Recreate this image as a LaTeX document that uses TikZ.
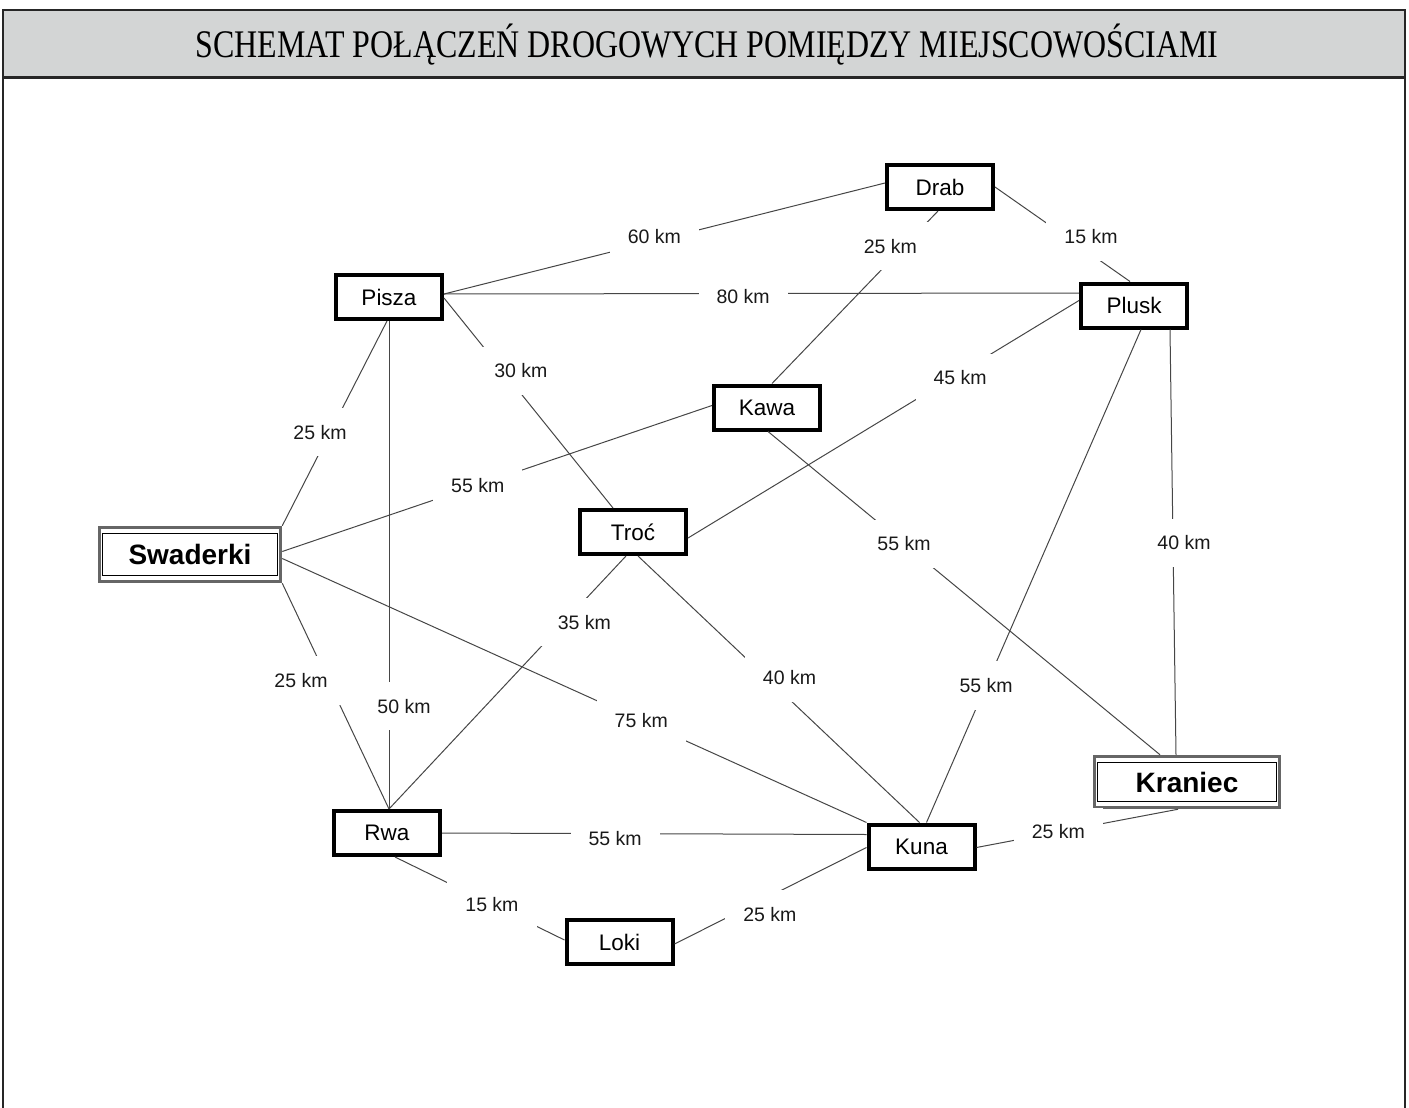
\documentclass[tikz,border=0pt]{standalone}
\usepackage{fontspec}
\usepackage{graphicx}
\setmainfont{Liberation Sans}
\newfontfamily\titlefont{Liberation Serif}
\usetikzlibrary{calc}
\definecolor{bargray}{RGB}{211,213,213}
\definecolor{edgec}{RGB}{70,70,70}
\begin{document}
\begin{tikzpicture}[x=1pt,y=-1pt,
  town/.style={draw=black,line width=4pt,minimum width=106pt,minimum height=44pt,inner sep=0pt,font=\fontsize{22.5}{27}\selectfont,fill=white},
  bigtown/.style={draw=black!60,line width=3.5pt,inner sep=0pt,font=\bfseries\fontsize{28}{32}\selectfont,fill=white},
  innerbox/.style={draw=black,line width=1pt},
  road/.style={draw=edgec,line width=1pt},
  km/.style={fill=white,inner xsep=18pt,inner ysep=17pt,font=\fontsize{19.5}{22}\selectfont,text=black!90}
]
\useasboundingbox (0,0) rectangle (1409,1108);
% frame and title bar
\fill[bargray] (3,10) rectangle (1405,78);
\draw[line width=2pt,black!85] (3,1108) -- (3,10) -- (1405,10) -- (1405,1108);
\draw[line width=3pt,black!85] (3,78) -- (1405,78);
\node[font=\titlefont\fontsize{34}{40}\selectfont] (title) at (707,45)
  {\scalebox{0.94}[1.15]{SCHEMAT POŁĄCZEŃ DROGOWYCH POMIĘDZY MIEJSCOWOŚCIAMI}};
% towns
\node[town] (drab)  at (940,187)   {Drab};
\node[town] (pisza) at (389,297)   {Pisza};
\node[town] (plusk) at (1134,305.5){Plusk};
\node[town] (kawa)  at (767,407.5) {Kawa};
\node[town] (troc)  at (633,532)   {Troć};
\node[town] (rwa)   at (387,833)   {Rwa};
\node[town] (kuna)  at (921.5,846.5){Kuna};
\node[town] (loki)  at (619.5,942) {Loki};
\node[bigtown,minimum width=181pt,minimum height=54pt] (sw) at (190,554.5) {Swaderki};
\node[bigtown,minimum width=185pt,minimum height=51pt] (kr) at (1187,782) {Kraniec};
\draw[innerbox] ([shift={(5pt,-8pt)}]sw.north west) rectangle ([shift={(-5pt,8pt)}]sw.south east);
\draw[innerbox] ([shift={(5pt,-8pt)}]kr.north west) rectangle ([shift={(-5pt,8pt)}]kr.south east);
% roads
\draw[road] ($(pisza.east)+(0,-3)$) -- node[km,pos=.477,yshift=5pt]{60 km} ($(drab.west)+(0,-4)$);
\draw[road] (drab.east) -- node[km,pos=.652,xshift=8pt,yshift=12pt]{15 km} ($(plusk.north)+(-4,0)$);
\draw[road] ($(drab.south)+(-2,0)$) -- node[km,pos=.245,xshift=-7pt,yshift=7pt]{25 km} ($(kawa.north)+(5,0)$);
\draw[road] ($(pisza.east)+(0,-3)$) -- node[km,pos=.471,yshift=-3pt]{80 km} ($(plusk.west)+(0,-12.5)$);
\draw[road] ($(pisza.east)+(0,1)$) -- node[km,pos=.39,xshift=11pt,yshift=9pt]{30 km} ($(troc.north)+(-20,0)$);
\draw[road] ($(plusk.west)+(0,-5)$) -- node[km,pos=.304,yshift=-5pt]{45 km} ($(troc.east)+(0,6)$);
\draw[road] ($(kawa.west)+(0,-2)$) -- node[km,pos=.545]{55 km} ($(sw.east)+(0,-3)$);
\draw[road] ($(kawa.south)+(1,0)$) -- node[km,pos=.347]{55 km} ($(kr.north)+(-27,0)$);
\draw[road] ($(plusk.south)+(36,0)$) -- node[km,pos=.502,xshift=11pt]{40 km} ($(kr.north)+(-11,0)$);
\draw[road] ($(plusk.south)+(7,0)$) -- node[km,pos=.722]{55 km} ($(kuna.north)+(5,0)$);
\draw[road] ($(pisza.south)+(-2,0)$) -- node[km,pos=.563,xshift=-8pt,yshift=4pt]{25 km} (sw.north east);
\draw[road] (pisza.south) -- node[km,pos=.789,xshift=15pt]{50 km} ($(rwa.north)+(2,0)$);
\draw[road] (sw.south east) -- node[km,pos=.382,xshift=-22pt,yshift=-11pt]{25 km} ($(rwa.north)+(2,0)$);
\draw[road] ($(sw.east)+(0,4)$) -- node[km,pos=.6145]{75 km} (kuna.north west);
\draw[road] ($(troc.south)+(-7,0)$) -- node[km,pos=.222,xshift=11pt,yshift=-10pt]{35 km} ($(rwa.north)+(2,0)$);
\draw[road] ($(troc.south)+(5,0)$) -- node[km,pos=.499,xshift=11pt,yshift=11pt]{40 km} ($(kuna.north)+(-2,0)$);
\draw[road] (rwa.east) -- node[km,pos=.408,yshift=-5pt]{55 km} ($(kuna.west)+(0,-12)$);
\draw[road] ($(rwa.south)+(8,0)$) -- node[km,pos=.572]{15 km} ($(loki.west)+(0,-2)$);
\draw[road] ($(loki.east)+(0,2)$) -- node[km,pos=.4606,xshift=7pt,yshift=-15pt]{25 km} ($(kuna.west)+(0,1)$);
\draw[road] ($(kuna.east)+(0,1)$) -- node[km,pos=.406]{25 km} ($(kr.south)+(-9,0)$);
\end{tikzpicture}
\end{document}
